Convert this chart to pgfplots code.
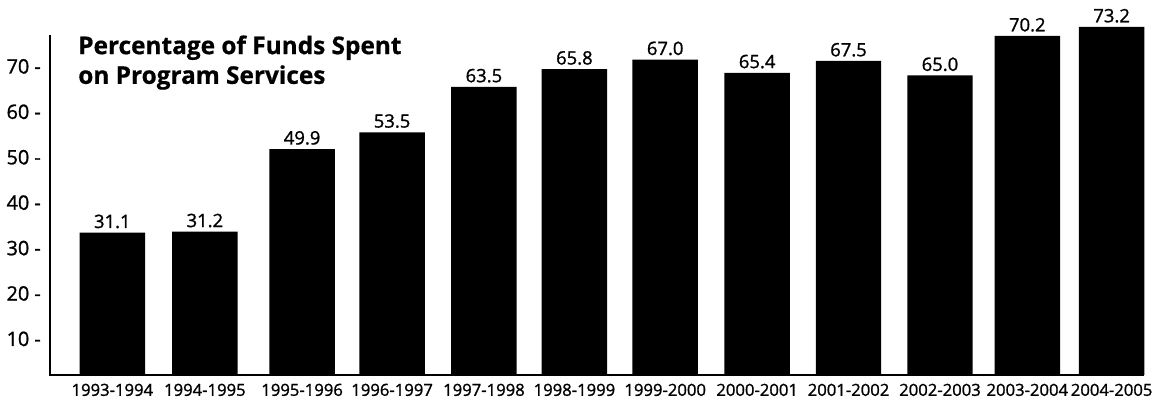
\documentclass[border=0pt]{standalone}
\usepackage{fontspec}
\setmainfont{Open Sans}
\newfontfamily\semib{Open Sans}[FakeBold=1.2]
\newfontfamily\blackf{Open Sans}[FakeBold=0.6]
\usepackage{pgfplots}
\pgfplotsset{compat=1.18}

\begin{document}
\begin{tikzpicture}
\begin{axis}[
    width=552pt, height=183pt,
    scale only axis,
    xmin=0.467, xmax=11.50,
    ymin=2.1, ymax=82,
    axis lines=left,
    x axis line style={-, line width=1pt},
    y axis line style={draw=none},
    major tick length=0pt,
    ytick={10,20,30,40,50,60,70},
    yticklabels={10 -,20 -,30 -,40 -,50 -,60 -,70 -},
    yticklabel style={font=\semib\fontsize{10}{12}\selectfont, xshift=-1pt},
    xtick=data,
    xticklabels={1993-1994,1994-1995,1995-1996,1996-1997,1997-1998,1998-1999,1999-2000,2000-2001,2001-2002,2002-2003,2003-2004,2004-2005},
    xticklabel style={font=\semib\fontsize{8.4}{10}\selectfont, yshift=-1pt},
    ybar, bar width=33pt,
    point meta=explicit symbolic,
    nodes near coords,
    every node near coord/.append style={font=\semib\fontsize{9.3}{11}\selectfont, anchor=south, inner sep=1pt, yshift=1pt},
]
\addplot[fill=black, draw=none] coordinates {
    (1.097,33.4) [31.1]
    (2.030,33.6) [31.2]
    (3.010,51.8) [49.9]
    (3.917,55.5) [53.5]
    (4.843,65.5) [63.5]
    (5.755,69.4) [65.8]
    (6.670,71.5) [67.0]
    (7.597,68.6) [65.4]
    (8.518,71.2) [67.5]
    (9.440,68.0) [65.0]
    (10.320,76.7) [70.2]
    (11.170,78.7) [73.2]
};
\node[anchor=north west, inner sep=0pt, align=left, font=\blackf\bfseries\fontsize{12.3}{15}\selectfont]
    at (axis cs:0.75,76.9) {Percentage of Funds Spent\\on Program Services};
\coordinate (yb) at (axis cs:0.467,2.1);
\coordinate (yt) at (axis cs:0.467,76.9);
\end{axis}
\draw[line width=1pt] ([yshift=-0.5pt]yb) -- (yt);
\useasboundingbox (-23.35pt,-15pt) rectangle (556.15pt,189pt);
\end{tikzpicture}
\end{document}
